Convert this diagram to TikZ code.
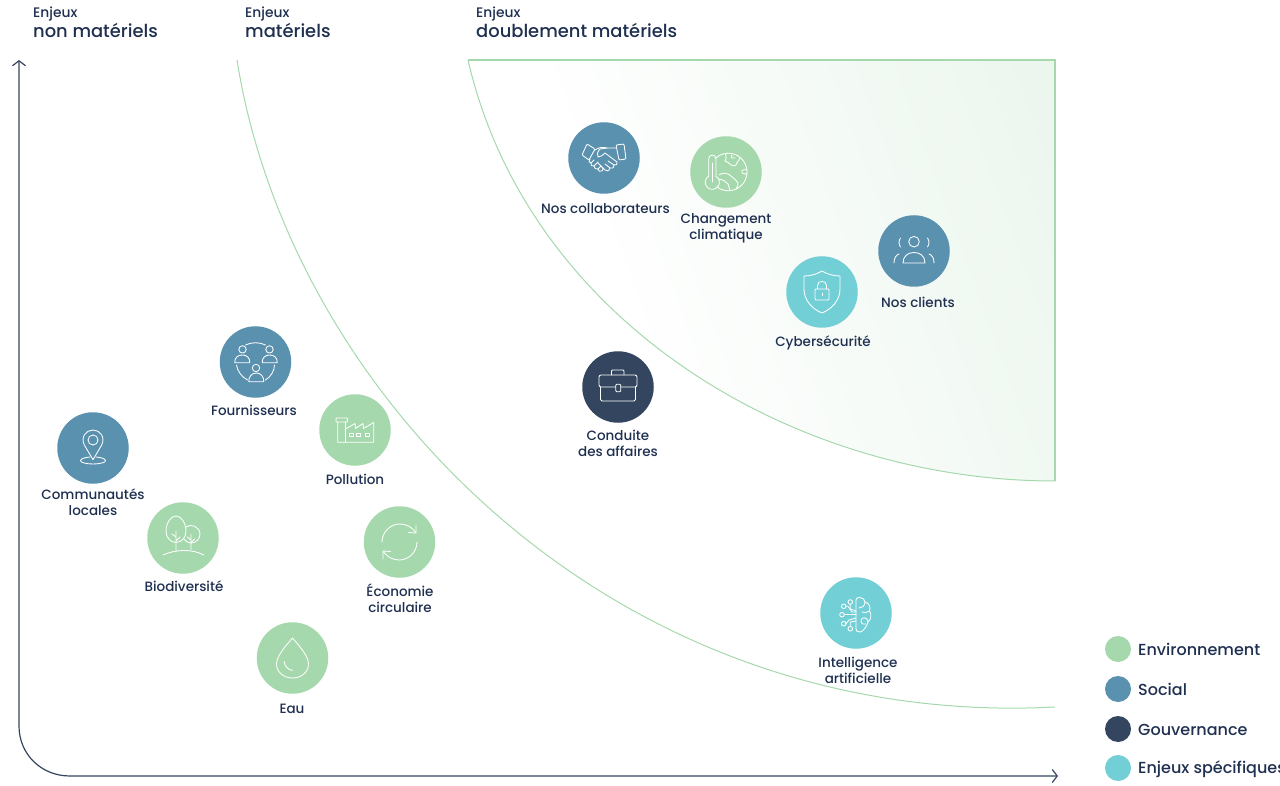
\documentclass[tikz,border=0pt]{standalone}
\usepackage{fontspec}
\usetikzlibrary{arrows.meta}
\setmainfont{Poppins}[UprightFont=* Medium]
\definecolor{cgreen}{HTML}{A5D8AC}
\definecolor{cblue}{HTML}{5A91AF}
\definecolor{cdark}{HTML}{34465F}
\definecolor{cteal}{HTML}{72CFD6}
\definecolor{ctext}{HTML}{1F2F50}
\definecolor{cfade}{HTML}{E3F2E6}
\pgfdeclarehorizontalshading{greenfade}{100bp}{color(0bp)=(white); color(36bp)=(white); color(100bp)=(cfade)}
\tikzset{
  x=1pt,y=-1pt,
  bubble/.style={circle,minimum size=71.5pt,inner sep=0pt,outer sep=0pt,draw=none,fill=#1},
  legdot/.style={circle,minimum size=26pt,inner sep=0pt,outer sep=0pt,draw=none,fill=#1},
  lab/.style={text=ctext,align=center,inner sep=0pt,font=\fontsize{13.5}{16}\selectfont},
  legtext/.style={text=ctext,anchor=west,inner sep=0pt,font=\fontsize{16}{18}\selectfont},
  headsmall/.style={text=ctext,anchor=west,inner sep=0pt,font=\fontsize{13.8}{15}\selectfont},
  headbig/.style={text=ctext,anchor=west,inner sep=0pt,font=\fontsize{17.9}{20}\selectfont},
  icon/.style={draw=white,line width=0.85pt,line cap=round,line join=round},
  boundary/.style={draw=cgreen,line width=1pt},
  axisline/.style={draw=cdark,line width=1.2pt,{Straight Barb[length=5pt,width=13pt]}-{Straight Barb[length=5pt,width=13pt]}},
}
\begin{document}
\begin{tikzpicture}
\useasboundingbox (0,0) rectangle (1280,786);
% zones
\path[shading=greenfade,shading angle=20] (468,60) -- (1055,60) -- (1055,481) .. controls (791,481) and (528,320) .. (468,60) -- cycle;
\draw[boundary,line width=1.2pt] (468,60) -- (1055,60) -- (1055,481);
\draw[boundary] (468,60) .. controls (528,320) and (791,481) .. (1055,481);
\draw[boundary] (237,60) .. controls (290,395) and (613,730) .. (1055,707);
% axes
\coordinate (ytip) at (19,60);
\coordinate (xtip) at (1058,776);
\draw[axisline] (ytip) -- (19,726) .. controls (19,754) and (41,776) .. (70,776) -- (xtip);
% headers
\node[headsmall] (h1a) at (33,14) {Enjeux};
\node[headbig] (h1b) at (33,30.5) {non matériels};
\node[headsmall] (h2a) at (245,14) {Enjeux};
\node[headbig] (h2b) at (245,30.5) {matériels};
\node[headsmall] (h3a) at (476,14) {Enjeux};
\node[headbig] (h3b) at (476,30.5) {doublement matériels};
% bubbles
\node[bubble=cblue] (collab) at (604,158) {};
\node[bubble=cgreen] (climat) at (726,172) {};
\node[bubble=cblue] (clients) at (914,251) {};
\node[bubble=cteal] (cyber) at (822,292) {};
\node[bubble=cdark] (conduite) at (618,387) {};
\node[bubble=cblue] (fourn) at (255.5,362) {};
\node[bubble=cgreen] (pollu) at (355,430) {};
\node[bubble=cblue] (commu) at (93,448) {};
\node[bubble=cgreen] (biodiv) at (183,538) {};
\node[bubble=cgreen] (eco) at (399.5,542) {};
\node[bubble=cgreen] (eau) at (292.5,658) {};
\node[bubble=cteal] (ia) at (856,613) {};
% labels
\node[lab] (lcollab) at (605.5,209) {Nos collaborateurs};
\node[lab] (lclimat) at (726,228) {Changement\\climatique};
\node[lab] (lclients) at (918,302) {Nos clients};
\node[lab] (lcyber) at (823,343) {Cybersécurité};
\node[lab] (lconduite) at (618,443) {Conduite\\des affaires};
\node[lab] (lfourn) at (254,410) {Fournisseurs};
\node[lab] (lpollu) at (355,479) {Pollution};
\node[lab] (lcommu) at (93,502.5) {Communautés\\locales};
\node[lab] (lbiodiv) at (184,586.5) {Biodiversité};
\node[lab] (leco) at (400,598) {Économie\\circulaire};
\node[lab] (leau) at (292,709) {Eau};
\node[lab] (lia) at (858,670) {Intelligence\\artificielle};
% legend
\node[legdot=cgreen] (d1) at (1118,649) {};
\node[legdot=cblue] (d2) at (1118,689) {};
\node[legdot=cdark] (d3) at (1118,729) {};
\node[legdot=cteal] (d4) at (1118,768) {};
\node[legtext] (t1) at (1138,649) {Environnement};
\node[legtext] (t2) at (1138,689) {Social};
\node[legtext] (t3) at (1138,729.5) {Gouvernance};
\node[legtext] (t4) at (1138,769.5) {Enjeux spécifiques};
% handshake
\begin{scope}[shift={(604,158)}]
\draw[icon,rounded corners=1pt] (-17,-14) -- (-9,-9) -- (-15,2) -- (-22,-3) -- cycle;
\draw[icon,rounded corners=1pt] (12,-13) -- (20,-14) -- (22,1) -- (15,2) -- cycle;
\draw[icon] (-9,-8) .. controls (-5,-11) and (-1,-11) .. (3,-10) -- (12,-10);
\draw[icon] (3,-10) -- (-4,-9) .. controls (-7,-6) and (-7,-3) .. (-6,-1) .. controls (-3,-1) and (-1,-3) .. (1,-5) -- (13,4) .. controls (14,6) and (12,8) .. (10,7) -- (4,3);
\draw[icon] (10,7) .. controls (10,10) and (8,11) .. (6,10) -- (1,6);
\draw[icon] (6,10) .. controls (5,13) and (3,14) .. (1,12) -- (-2,9);
\draw[icon] (-14,1) .. controls (-16,3) and (-15,5) .. (-13,5) .. controls (-14,7) and (-12,9) .. (-10,8) .. controls (-10,10) and (-8,12) .. (-6,11) .. controls (-6,13) and (-4,14) .. (-2,13) .. controls (0,12) and (-1,10) .. (-2,9) -- (-6,5);
\draw[icon] (-13,5) -- (-10,2) (-10,8) -- (-6,4) (-6,11) -- (-3,8);
\end{scope}
% thermometer and globe
\begin{scope}[shift={(726,172)}]
\draw[icon] (-10,4) -- (-10,-13.5) .. controls (-10,-18) and (-17.3,-18) .. (-17.3,-13.5) -- (-17.3,4);
\draw[icon] plot[domain=-60:240,samples=40] ({-13.7+7*cos(\x)},{10.3+7*sin(\x)});
\draw[icon] (-13.7,-9) -- (-13.7,10);
\draw[icon] plot[domain=-133:128,samples=60] ({2.3+18.7*cos(\x)},{18.7*sin(\x)});
\draw[icon] (-0.5,-18) .. controls (1,-15) and (0,-13) .. (-1,-11) .. controls (1,-9) and (4,-10) .. (5,-7) .. controls (7,-5) and (10,-6) .. (11,-9) .. controls (13,-10) and (12,-13) .. (14,-14);
\draw[icon] (6,-17) .. controls (4,-14) and (7,-13) .. (9,-14);
\draw[icon] (21,-2) .. controls (18,-3) and (15,-2) .. (16,1) .. controls (18,3) and (20,2) .. (21,1);
\draw[icon] (-7,3) .. controls (-3,0) and (2,1) .. (5,4) .. controls (8,7) and (11,8) .. (12,11) .. controls (13,13) and (11,15) .. (10,17);
\draw[icon] (-7,7) .. controls (-3,8) and (0,9) .. (2,12) .. controls (3,14) and (3,16) .. (4,18.5);
\end{scope}
% clients
\begin{scope}[shift={(914,251)}]
\draw[icon] (0,-9.3) circle[radius=5.3];
\draw[icon] (-11,12) .. controls (-11,5) and (-6,1.5) .. (0,1.5) .. controls (6,1.5) and (11,5) .. (11,12) -- cycle;
\draw[icon] (-13.5,-13) .. controls (-15.5,-10) and (-15.5,-7) .. (-13.5,-4);
\draw[icon] (13.5,-13) .. controls (15.5,-10) and (15.5,-7) .. (13.5,-4);
\draw[icon] (-20,12) .. controls (-20,7) and (-18,4) .. (-15,3);
\draw[icon] (20,12) .. controls (20,7) and (18,4) .. (15,3);
\end{scope}
% shield
\begin{scope}[shift={(822,292)}]
\draw[icon] (0,-21) .. controls (-5,-18) and (-11,-16) .. (-18,-16) -- (-18,-3) .. controls (-18,8) and (-10,17) .. (0,21) .. controls (10,17) and (18,8) .. (18,-3) -- (18,-16) .. controls (11,-16) and (5,-18) .. (0,-21) -- cycle;
\draw[icon,rounded corners=1pt] (-7,-3) rectangle (7,8);
\draw[icon] (-4.5,-3) -- (-4.5,-6.5) .. controls (-4.5,-12) and (4.5,-12) .. (4.5,-6.5) -- (4.5,-3);
\draw[icon] (0,1) -- (0,3.5);
\end{scope}
% briefcase
\begin{scope}[shift={(618,387)}]
\draw[icon,rounded corners=2pt] (-2.3,0) -- (-19,0) -- (-19,-12) -- (19,-12) -- (19,0) -- (2.7,0);
\draw[icon,rounded corners=1.5pt] (-17.5,0) -- (-17.5,14) -- (17.5,14) -- (17.5,0);
\draw[icon,rounded corners=1pt] (-6.5,-12) -- (-6.5,-17) -- (6,-17) -- (6,-12);
\draw[icon,rounded corners=1pt] (-2.3,-2.7) rectangle (2.7,4.7);
\end{scope}
% suppliers
\begin{scope}[shift={(255.5,362)}]
\draw[icon] (-13,-12.6) circle[radius=3.7];
\draw[icon] (14,-12.6) circle[radius=3.7];
\draw[icon] (0.5,6) circle[radius=3.7];
\draw[icon] (-20.7,0.7) .. controls (-21,-4) and (-18,-7) .. (-13.2,-7) .. controls (-8.5,-7) and (-5.5,-4) .. (-5.7,0.7) -- cycle;
\draw[icon] (6.7,0.7) .. controls (6.5,-4) and (9.5,-7) .. (14.2,-7) .. controls (19,-7) and (22,-4) .. (21.7,0.7) -- cycle;
\draw[icon] (-6.7,19.7) .. controls (-7,15) and (-4,11) .. (0.8,11) .. controls (5.5,11) and (8.5,15) .. (8.3,19.7) -- cycle;
\draw[icon] (-10,-17) .. controls (-4,-20) and (4,-20) .. (10,-17);
\draw[icon] (-19,3) .. controls (-18,9) and (-14,15) .. (-8,18);
\draw[icon] (10,18) .. controls (15,15) and (19,9) .. (19,3);
\end{scope}
% factory
\begin{scope}[shift={(355,430)}]
\draw[icon,rounded corners=0.7pt] (-19,-12) rectangle (-7.5,-8);
\draw[icon] (-17.2,-8) -- (-17.2,12.3) -- (18.7,12.3) -- (18.7,-7.5) -- (8.5,-1.5) -- (8,-6.5) -- (0.5,-1.5) -- (0,-6.5) -- (-10,-0.7);
\draw[icon] (-10,-8) -- (-10,12.3);
\draw[icon] (-5.7,3.3) rectangle (-1.7,6.7);
\draw[icon] (1.7,3.3) rectangle (5.7,6.7);
\draw[icon] (10,3.3) rectangle (14,6.7);
\end{scope}
% pin
\begin{scope}[shift={(93,448)}]
\draw[icon] (0,11.7) -- (-8.7,-3) .. controls (-12.5,-11) and (-7,-18) .. (0,-18) .. controls (7,-18) and (12.5,-11) .. (8.7,-3) -- cycle;
\draw[icon] (0,-8) circle[radius=5];
\draw[icon] (-3,9) .. controls (-9,9.5) and (-12.5,11) .. (-12.5,12.7) .. controls (-12.5,14.5) and (-7,16) .. (0,16) .. controls (7,16) and (12.5,14.5) .. (12.5,12.7) .. controls (12.5,11) and (9,9.5) .. (3,9);
\end{scope}
% trees
\begin{scope}[shift={(183,538)}]
\draw[icon] (-7,4.5) .. controls (-13,4.5) and (-17,-1) .. (-17,-7) .. controls (-17,-15) and (-12,-22) .. (-7,-22) .. controls (-2,-22) and (3,-15) .. (3,-7) .. controls (3,-1) and (-1,4.5) .. (-7,4.5);
\draw[icon] (2.5,-11) .. controls (8,-15) and (17,-11) .. (17,-4) .. controls (17,1) and (13,5) .. (8,5) .. controls (5,5) and (2,3) .. (1,1);
\draw[icon] (-7,-7) -- (-7,12.5) (-7,-1) -- (-11,-4) (-7,3) -- (-3,-1);
\draw[icon] (8,-4) -- (8,11.5) (8,2) -- (4.5,-1) (8,5) -- (11.5,1);
\draw[icon] (-20,17) .. controls (-8,11.5) and (9,10.5) .. (20.7,17);
\end{scope}
% recycle
\begin{scope}[shift={(399.5,542)}]
\draw[icon] (-17.5,0) .. controls (-17.5,-10) and (-9,-18) .. (0,-18) .. controls (7,-18) and (12,-15) .. (16,-10);
\draw[icon] (9,-9.5) -- (16.5,-9) -- (16.5,-17);
\draw[icon] (17.5,0) .. controls (17.5,10) and (9,18) .. (0,18) .. controls (-7,18) and (-12,15) .. (-16,10);
\draw[icon] (-9,9.5) -- (-16.5,9) -- (-16.5,17);
\end{scope}
% drop
\begin{scope}[shift={(292.5,658)}]
\draw[icon] (0,-20) .. controls (-4,-15) and (-16,-3) .. (-16,6) .. controls (-16,14) and (-9,20) .. (0,20) .. controls (9,20) and (16,14) .. (16,6) .. controls (16,-3) and (4,-15) .. (0,-20) -- cycle;
\draw[icon] (-8.3,3.3) .. controls (-8,8) and (-4.5,12) .. (0,12.3);
\end{scope}
% brain
\begin{scope}[shift={(856,613)}]
\draw[icon] (0,-13) .. controls (0,-15) and (1,-15.5) .. (4,-15.5) .. controls (7,-15.5) and (9,-13) .. (9,-11) .. controls (13,-10) and (15,-6) .. (13.5,-2) .. controls (16,1) and (15,7) .. (12,9) .. controls (11,13) and (7,19) .. (4,19) .. controls (1,19) and (0,18) .. (0,16) -- cycle;
\draw[icon] (9,-11) .. controls (9,-7) and (6,-5) .. (3,-5);
\draw[icon] (13.5,-2) .. controls (11,0) and (8,0) .. (6,-1);
\draw[icon] (12,9) .. controls (12,4) and (5,3) .. (5,8) .. controls (5,11) and (8,12) .. (10,11);
\draw[icon] (-5.7,-11) circle[radius=2.3] (-12.3,-6.7) circle[radius=2.3] (-14,1.7) circle[radius=2.3] (-12.3,10.7) circle[radius=2.3] (-5.7,15.7) circle[radius=2.3];
\draw[icon] (-5.7,-8.7) -- (-5.7,-4) -- (0,-2);
\draw[icon] (-10,-6.7) -- (-8,-6.7) -- (-4,-1) -- (0,-1);
\draw[icon] (-11.7,1.7) -- (0,1.7);
\draw[icon] (-10,10.7) -- (-7,7) -- (0,5);
\draw[icon] (-5.7,13.4) -- (-5.7,9) -- (0,8);
\end{scope}
\end{tikzpicture}
\end{document}
